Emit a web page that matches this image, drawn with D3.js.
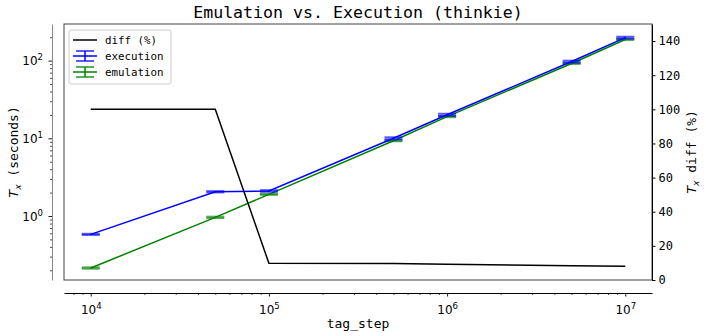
<!DOCTYPE html>
<html>
<head>
<meta charset="utf-8">
<script src="https://cdn.jsdelivr.net/npm/d3@7"></script>
<style>
  body { margin: 0; background: #fff; }
  svg text { font-family: "DejaVu Sans Mono", monospace; fill: #000; }
</style>
</head>
<body>
<div id="chart"></div>
<script>
// data
const tagSteps = [1e4, 5e4, 1e5, 5e5, 1e6, 5e6, 1e7];
const execTime = [0.58, 2.05, 2.1, 10.0, 20.1, 97.3, 198];
const execErr = [0.01, 0.04, 0.05, 0.3, 0.6, 2.5, 5];
const emuTime = [0.214, 0.96, 1.9, 9.3, 19.0, 91.8, 187];
const emuErr = [0.004, 0.02, 0.03, 0.15, 0.3, 1.2, 2.5];
const diffPct = [100, 100, 9.8, 9.6, 9.3, 8.4, 8.0];
const rightTicks = [0, 20, 40, 60, 80, 100, 120, 140];

const W = 706, H = 336;
const box = { left: 64, right: 652, top: 24, bottom: 280 };

const svg = d3.select("#chart").append("svg")
  .attr("width", W).attr("height", H);

const x = d3.scaleLog().domain([Math.pow(10, 3.85), Math.pow(10, 7.15)])
  .range([box.left, box.right]);
const yL = d3.scaleLog().domain([0.150, 296]).range([box.bottom, box.top]);
const yR = d3.scaleLinear().domain([0, 150]).range([box.bottom, box.top]);

// minor + major log ticks
function logTicks(lo, hi) {
  const out = [];
  for (let e = Math.floor(Math.log10(lo)); e <= Math.ceil(Math.log10(hi)); e++) {
    for (let m = 1; m < 10; m++) {
      const v = m * Math.pow(10, e);
      if (v >= lo && v <= hi) out.push(v);
    }
  }
  return out;
}
const isMajor = v => Math.abs(Math.log10(v) - Math.round(Math.log10(v))) < 1e-9;
const supDigits = { "0": "⁰" };

function styleLogAxis(g, orient) {
  g.selectAll(".tick").each(function(d) {
    const t = d3.select(this);
    const major = isMajor(d);
    t.select("line").attr("stroke-width", major ? 0.9 : 0.7)
      .attr(orient === "left" ? "x2" : "y2", orient === "left" ? (major ? -3.5 : -2) : (major ? 3.5 : 2));
    const txt = t.select("text");
    if (!major) { txt.remove(); return; }
    const e = Math.round(Math.log10(d));
    txt.text(null).style("font-family", "'DejaVu Sans', sans-serif").attr("font-size", 12);
    txt.append("tspan").text("10");
    txt.append("tspan").attr("font-size", 8.5).attr("dy", -5).text(e);
  });
}

// offset left spine (log seconds)
const gl = svg.append("g").attr("transform", "translate(52,0)")
  .call(d3.axisLeft(yL).tickValues(logTicks(0.15, 296)).tickSizeOuter(0).tickPadding(3));
gl.select(".domain").attr("stroke", "#888").attr("stroke-width", 1);
styleLogAxis(gl, "left");
gl.selectAll(".tick text").attr("dy", "0.35em");

// offset bottom spine (tag_step)
const gb = svg.append("g").attr("transform", "translate(0,293)")
  .call(d3.axisBottom(x).tickValues(logTicks(Math.pow(10, 3.85), Math.pow(10, 7.15))).tickSizeOuter(0).tickPadding(4));
gb.select(".domain").attr("stroke", "#000").attr("stroke-width", 1);
styleLogAxis(gb, "bottom");
gb.selectAll(".tick text").attr("dy", "0.9em");

// frame
svg.append("rect").attr("x", box.left).attr("y", box.top)
  .attr("width", box.right - box.left).attr("height", box.bottom - box.top)
  .attr("fill", "none").attr("stroke", "#444").attr("stroke-width", 1);

// right axis (diff %)
const gr = svg.append("g").attr("transform", `translate(${box.right},0)`)
  .call(d3.axisRight(yR).tickValues(rightTicks).tickSize(3.5).tickSizeOuter(0).tickPadding(3));
gr.select(".domain").attr("stroke", "#000");
gr.selectAll(".tick text").attr("font-size", 12).style("font-family", "'DejaVu Sans Mono', monospace");

// series with error bars
function drawSeries(vals, errs, color) {
  const pts = tagSteps.map((s, i) => ({ s, v: vals[i], e: errs[i] }));
  svg.append("path").datum(pts)
    .attr("fill", "none").attr("stroke", color).attr("stroke-width", 1.5)
    .attr("d", d3.line().x(d => x(d.s)).y(d => yL(d.v)));
  const eb = svg.append("g").selectAll("g").data(pts).enter().append("g");
  eb.append("line")
    .attr("x1", d => x(d.s)).attr("x2", d => x(d.s))
    .attr("y1", d => yL(d.v - d.e)).attr("y2", d => yL(d.v + d.e))
    .attr("stroke", color).attr("stroke-width", 1.5);
  [-1, 1].forEach(sg => {
    eb.append("line")
      .attr("x1", d => x(d.s) - 9).attr("x2", d => x(d.s) + 9)
      .attr("y1", d => yL(d.v + sg * d.e)).attr("y2", d => yL(d.v + sg * d.e))
      .attr("stroke", color).attr("stroke-width", 2).attr("stroke-opacity", 0.65);
  });
}
drawSeries(emuTime, emuErr, "#008000");
drawSeries(execTime, execErr, "#0000ff");

// diff line on right axis
svg.append("path").datum(tagSteps.map((s, i) => [s, diffPct[i]]))
  .attr("fill", "none").attr("stroke", "#000").attr("stroke-width", 1.5)
  .attr("d", d3.line().x(d => x(d[0])).y(d => yR(d[1])));

// title and labels
svg.append("text").attr("x", (box.left + box.right) / 2).attr("y", 18)
  .attr("text-anchor", "middle").attr("font-size", 16.6)
  .text("Emulation vs. Execution (thinkie)");
svg.append("text").attr("x", (box.left + box.right) / 2).attr("y", 328)
  .attr("text-anchor", "middle").attr("font-size", 13).text("tag_step");

function txLabel(xPos, rest) {
  const t = svg.append("text")
    .attr("transform", `translate(${xPos},152) rotate(-90)`)
    .attr("text-anchor", "middle").attr("font-size", 13);
  t.append("tspan").style("font-family", "'DejaVu Sans', sans-serif")
    .attr("font-style", "italic").text("T");
  t.append("tspan").style("font-family", "'DejaVu Sans', sans-serif")
    .attr("font-style", "italic").attr("font-size", 9).attr("dy", 3).text("x");
  t.append("tspan").attr("dy", -3).text(rest);
}
txLabel(18, " (seconds)");
txLabel(696, " diff (%)");

// legend
const lg = svg.append("g").attr("transform", "translate(69,30)");
lg.append("rect").attr("width", 102).attr("height", 54).attr("rx", 2)
  .attr("fill", "#fff").attr("fill-opacity", 0.8).attr("stroke", "#ccc").attr("stroke-width", 1);
const items = [
  { label: "diff (%)", color: "#000", err: false },
  { label: "execution", color: "#0000ff", err: true },
  { label: "emulation", color: "#008000", err: true }
];
items.forEach((it, i) => {
  const cy = 10 + i * 16;
  const g = lg.append("g");
  g.append("line").attr("x1", 4).attr("x2", 28).attr("y1", cy).attr("y2", cy)
    .attr("stroke", it.color).attr("stroke-width", 1.5);
  if (it.err) {
    g.append("line").attr("x1", 16).attr("x2", 16).attr("y1", cy - 5).attr("y2", cy + 5)
      .attr("stroke", it.color).attr("stroke-width", 1.5);
    [-5, 5].forEach(o => g.append("line").attr("x1", 7).attr("x2", 25)
      .attr("y1", cy + o).attr("y2", cy + o).attr("stroke", it.color).attr("stroke-width", 1.3));
  }
  g.append("text").attr("x", 36).attr("y", cy).attr("dy", "0.35em")
    .attr("font-size", 10.8).text(it.label);
});
</script>
</body>
</html>
